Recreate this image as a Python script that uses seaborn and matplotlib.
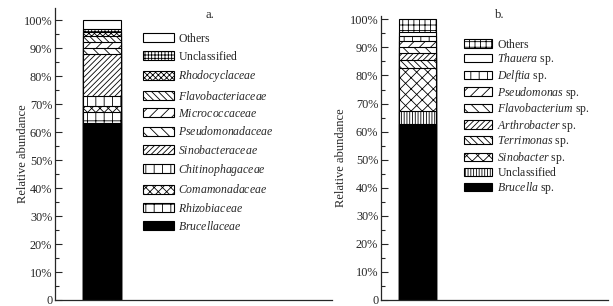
import numpy as np
import pandas as pd
import matplotlib
matplotlib.use('Agg')
import matplotlib.pyplot as plt
import seaborn as sns
from matplotlib.patches import Patch

sns.set_style('ticks')
plt.rcParams['font.family'] = ['Liberation Serif', 'DejaVu Serif']
plt.rcParams['mathtext.fontset'] = 'custom'
plt.rcParams['mathtext.rm'] = 'Liberation Serif'
plt.rcParams['mathtext.it'] = 'Liberation Serif:italic'
plt.rcParams['hatch.linewidth'] = 0.6

# panel a: families (bottom -> top), percent
fam_names = ['Brucellaceae', 'Rhizobiaceae', 'Comamonadaceae', 'Chitinophagaceae',
             'Sinobacteraceae', 'Pseudomonadaceae', 'Micrococcaceae',
             'Flavobacteriaceae', 'Rhodocyclaceae', 'Unclassified', 'Others']
fam_italic = [True] * 9 + [False, False]
fam_values = [63.1, 4.2, 2.0, 3.7, 14.7, 2.2, 2.4, 2.0, 1.5, 1.0, 3.2]
fam_hatch = [None, '++', 'xxxx', '||', '//////', '\\\\\\', '///', '\\\\\\\\\\', 'xxxxxx', '+++++', None]
fam_color = ['black'] + ['white'] * 10

# panel b: genera (bottom -> top), percent
gen_names = ['Brucella', 'Unclassified', 'Sinobacter', 'Terrimonas', 'Arthrobacter',
             'Flavobacterium', 'Pseudomonas', 'Delftia', 'Thauera', 'Others']
gen_sp = [True, False, True, True, True, True, True, True, True, False]
gen_values = [62.8, 4.6, 15.3, 2.7, 2.5, 2.2, 2.1, 2.0, 1.2, 4.6]
gen_hatch = [None, '||||||', 'xxx', '\\\\\\\\\\', '//////', '\\\\\\', '///', '||', None, '+++']
gen_color = ['black'] + ['white'] * 9


def label(name, italic, sp=False):
    # everything goes through mathtext so all legend rows get the same height
    if not italic:
        return r'$\rm{' + name + '}$'
    s = r'$\it{' + name + '}$'
    return s + ' sp.' if sp else s


def stacked(ax, values, hatches, colors):
    cum = np.cumsum(values)
    # draw from the top down so each lower segment covers the ones above
    for i in range(len(values) - 1, -1, -1):
        df = pd.DataFrame({'sample': ['s'], 'pct': [cum[i]]})
        sns.barplot(data=df, x='sample', y='pct', ax=ax, width=1.0,
                    color=colors[i], edgecolor='black', linewidth=0.8,
                    hatch=hatches[i], saturation=1)


fig = plt.figure(figsize=(6.13, 3.06), dpi=100)
ax1 = fig.add_axes([55 / 613, 6 / 306, 277 / 613, 292 / 306])
ax2 = fig.add_axes([381 / 613, 6 / 306, 227 / 613, 284 / 306])

stacked(ax1, fam_values, fam_hatch, fam_color)
stacked(ax2, gen_values, gen_hatch, gen_color)

ax1.set_xlim(-1.24, 6.05)
ax1.set_ylim(0, 104.3)
ax2.set_xlim(-0.99, 5.15)
ax2.set_ylim(0, 101.2)

fs = 8.5
for ax in (ax1, ax2):
    sns.despine(ax=ax)
    ax.set_xticks([])
    ax.set_xlabel('')
    ax.set_ylabel('Relative abundance', fontsize=fs + 0.5)
    ax.yaxis.set_label_coords(-0.095 if ax is ax1 else -0.15, 0.5)
    ax.set_yticks(np.arange(0, 101, 10))
    ax.set_yticklabels(['0'] + [f'{v}%' for v in range(10, 101, 10)], fontsize=fs + 0.3)
    ax.set_yticks(np.arange(5, 100, 10), minor=True)
    ax.tick_params(axis='y', which='major', direction='in', length=5, width=0.8, pad=2)
    ax.tick_params(axis='y', which='minor', direction='in', length=3, width=0.8)
    for sp in ax.spines.values():
        sp.set_linewidth(0.9)

h1 = [Patch(facecolor=c, edgecolor='black', hatch=h, linewidth=0.8)
      for c, h in zip(fam_color, fam_hatch)][::-1]
l1 = [label(n, it) for n, it in zip(fam_names, fam_italic)][::-1]
ax1.legend(h1, l1, loc='upper left', bbox_to_anchor=(0.3, 0.935), frameon=False,
           fontsize=fs, handlelength=2.6, handleheight=0.8, handletextpad=0.4,
           labelspacing=0.45, borderaxespad=0)

h2 = [Patch(facecolor=c, edgecolor='black', hatch=h, linewidth=0.8)
      for c, h in zip(gen_color, gen_hatch)][::-1]
l2 = [label(n, s, s) for n, s in zip(gen_names, gen_sp)][::-1]
ax2.legend(h2, l2, loc='upper left', bbox_to_anchor=(0.345, 0.94), frameon=False,
           fontsize=fs, handlelength=2.35, handleheight=0.7, handletextpad=0.4,
           labelspacing=0.05, borderaxespad=0)

fig.text(210 / 613, 1 - 15 / 306, 'a.', ha='center', va='center', fontsize=fs + 0.5)
fig.text(500 / 613, 1 - 15 / 306, 'b.', ha='center', va='center', fontsize=fs + 0.5)

fig.savefig('out.png', dpi=100)
